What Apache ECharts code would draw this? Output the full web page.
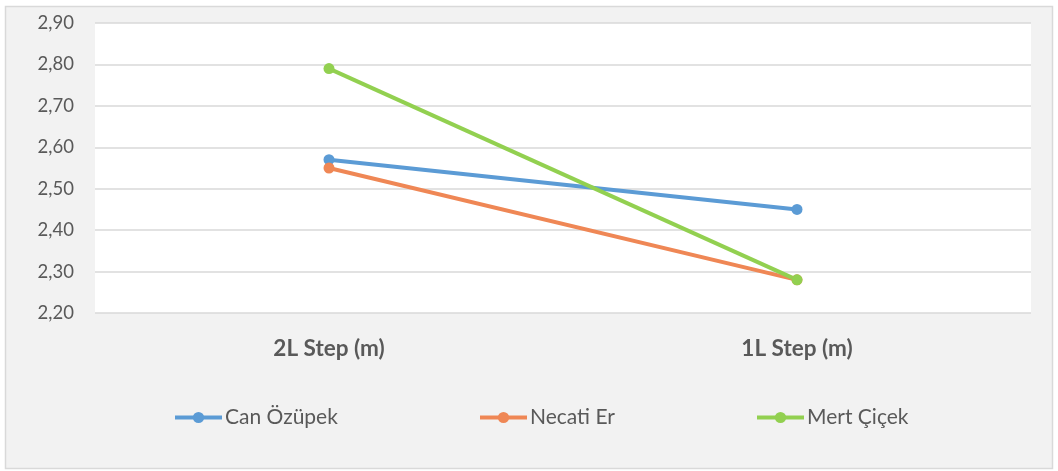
<!DOCTYPE html>
<html><head><meta charset="utf-8">
<script src="https://cdn.jsdelivr.net/npm/echarts@6/dist/echarts.min.js"></script>
<style>html,body{margin:0;padding:0;background:#fff;}#c{width:1058px;height:471px;}</style>
</head><body><div id="c"></div>
<script>
const categories = ["2L Step (m)", "1L Step (m)"];
const canOzupek = [2.57, 2.45];
const necatiEr = [2.55, 2.28];
const mertCicek = [2.79, 2.28];
const seriesNames = ["Can Özüpek", "Necati Er", "Mert Çiçek"];
const colors = ["#5B9BD5", "#EF8755", "#92D050"];
const yMin = 2.2, yMax = 2.9, yStep = 0.1;

const FONT = "Lato";
const chart = echarts.init(document.getElementById('c'));
const allData = [canOzupek, necatiEr, mertCicek];
const legendLefts = [173, 478, 755];
chart.setOption({
  animation: false,
  textStyle: { fontFamily: FONT },
  graphic: [{
    type: 'rect', z: -10, silent: true,
    shape: { x: 5.5, y: 6.5, width: 1047, height: 462 },
    style: { fill: '#f2f2f2', stroke: '#d9d9d9', lineWidth: 1.5 }
  }],
  grid: { left: 95, right: 27, top: 23, bottom: 158, show: true, backgroundColor: '#ffffff', borderWidth: 0 },
  legend: seriesNames.map((n, i) => ({
    data: [n], left: legendLefts[i], top: 407, padding: 0, itemWidth: 47, itemHeight: 14, itemGap: 4,
    lineStyle: { width: 4 },
    textStyle: { fontFamily: FONT, fontSize: 21, color: '#595959', padding: [0, 0, 0, -2] }
  })),
  xAxis: {
    type: 'category', data: categories, boundaryGap: true,
    axisLine: { show: false }, axisTick: { show: false },
    axisLabel: { fontFamily: FONT, fontSize: 22.5, fontWeight: 'bold', color: '#595959', margin: 24 }
  },
  yAxis: {
    type: 'value', min: yMin, max: yMax, interval: yStep,
    axisLine: { show: false }, axisTick: { show: false },
    splitLine: { lineStyle: { color: '#d9d9d9', width: 1.5 } },
    axisLabel: { fontFamily: FONT, fontSize: 18.5, color: '#595959', margin: 21,
      formatter: v => v.toFixed(2).replace('.', ',') }
  },
  series: allData.map((d, i) => ({
    name: seriesNames[i], type: 'line', data: d,
    color: colors[i],
    symbol: 'circle', symbolSize: 11,
    lineStyle: { width: 4, color: colors[i] },
    itemStyle: { color: colors[i] }
  }))
});
</script></body></html>
